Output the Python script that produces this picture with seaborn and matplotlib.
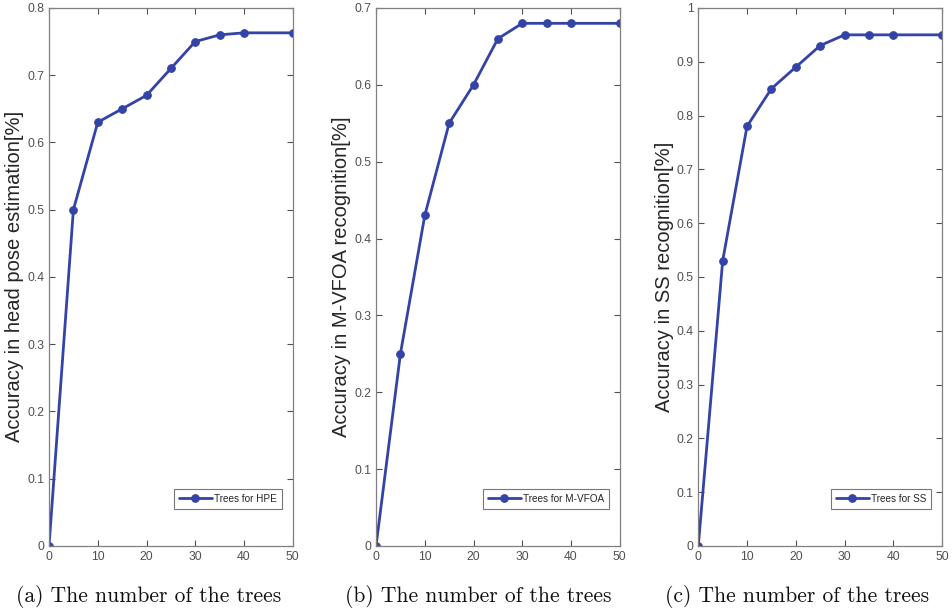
import pandas as pd
import matplotlib.pyplot as plt
import seaborn as sns

# data
trees = [0, 5, 10, 15, 20, 25, 30, 35, 40, 50]
acc_hpe = [0, 0.50, 0.63, 0.65, 0.67, 0.71, 0.75, 0.76, 0.763, 0.763]
acc_vfoa = [0, 0.25, 0.43, 0.55, 0.60, 0.66, 0.68, 0.68, 0.68, 0.68]
acc_ss = [0, 0.53, 0.78, 0.85, 0.89, 0.93, 0.95, 0.95, 0.95, 0.95]

series = ['Trees for HPE', 'Trees for M-VFOA', 'Trees for SS']
ylabels = ['Accuracy in head pose estimation[%]',
           'Accuracy in M-VFOA recognition[%]',
           'Accuracy in SS recognition[%]']
captions = ['(a) The number of the trees',
            '(b) The number of the trees',
            '(c) The number of the trees']
ymax = [0.8, 0.7, 1.0]

sns.set_style('ticks')
plt.rcParams['font.family'] = ['Liberation Sans', 'DejaVu Sans']

fig = plt.figure(figsize=(9.52, 6.12), dpi=100)
lefts = [0.0515, 0.395, 0.7335]
cap_x = [149, 478, 797]
line_color = '#3343a6'
grey = '#262626'

for i, vals in enumerate([acc_hpe, acc_vfoa, acc_ss]):
    ax = fig.add_axes([lefts[i], 0.108, 0.256, 0.879])
    df = pd.DataFrame({'trees': trees, 'acc': vals})
    sns.lineplot(data=df, x='trees', y='acc', ax=ax, color=line_color,
                 linewidth=2, marker='o', markersize=5.5,
                 markeredgecolor=line_color, label=series[i])
    ax.set_xlim(0, 50)
    ax.set_ylim(0, ymax[i])
    ax.set_xticks(range(0, 51, 10))
    ax.set_xticklabels([str(t) for t in range(0, 51, 10)])
    yt = [round(0.1 * k, 1) for k in range(int(round(ymax[i] * 10)) + 1)]
    ax.set_yticks(yt)
    ax.set_yticklabels(['0' if v == 0 else ('1' if v == 1 else f'{v:g}') for v in yt])
    ax.tick_params(direction='in', top=True, right=True, length=4,
                   width=0.8, labelsize=8.8, colors='#505050', pad=3.5)
    for s in ax.spines.values():
        s.set_color('#808080')
        s.set_linewidth(0.9)
    ax.set_ylabel(ylabels[i], fontsize=14.5, color=grey, labelpad=2)
    ax.set_xlabel('')
    leg = ax.legend(loc='lower right', bbox_to_anchor=(0.975, 0.06),
                    fontsize=7.2, frameon=True, fancybox=False,
                    handlelength=3.3, handletextpad=0.2, borderpad=0.5)
    leg.get_frame().set_edgecolor('#555555')
    leg.get_frame().set_linewidth(0.8)
    fig.text(cap_x[i] / 952, 1 - 596 / 612, captions[i], ha='center', va='center',
             fontsize=15.5, family=['cmr10', 'DejaVu Serif'], color='#111111')

fig.savefig('out.png', dpi=100)
